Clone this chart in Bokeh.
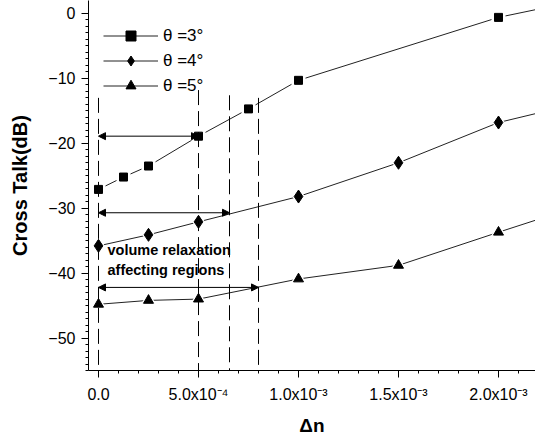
from bokeh.plotting import figure
from bokeh.models import (Range1d, FixedTicker, Legend, LegendItem, Label,
                          Arrow, NormalHead)
from bokeh.embed import file_html
from bokeh.resources import INLINE

# ---- data ----
dn3 = [0.0, 1.25e-4, 2.5e-4, 5.0e-4, 7.5e-4, 1.0e-3, 2.0e-3, 2.5e-3]
ct3 = [-27.1, -25.2, -23.5, -18.9, -14.7, -10.3, -0.6, 2.6]
dn4 = [0.0, 2.5e-4, 5.0e-4, 1.0e-3, 1.5e-3, 2.0e-3, 2.5e-3]
ct4 = [-35.8, -34.1, -32.1, -28.2, -23.0, -16.8, -13.1]
dn5 = [0.0, 2.5e-4, 5.0e-4, 1.0e-3, 1.5e-3, 2.0e-3, 2.5e-3]
ct5 = [-44.8, -44.2, -44.0, -40.9, -38.8, -33.7, -28.7]

series_labels = ["θ =3°", "θ =4°", "θ =5°"]

# region boundaries (vertical dashed lines) and their top ends
region_x = [0.0, 5.0e-4, 6.55e-4, 8.0e-4]
region_top = [-13.0, -11.8, -12.6, -13.0]
region_bottom = -55.0

# double arrows: level and right end
arrow_y = [-18.9, -30.7, -42.2]
arrow_x_end = [5.0e-4, 6.55e-4, 8.0e-4]

x_ticks = [0.0, 5.0e-4, 1.0e-3, 1.5e-3, 2.0e-3]
x_tick_labels = ["0.0", "5.0x10\u207b\u2074", "1.0x10\u207b\u00b3",
                 "1.5x10\u207b\u00b3", "2.0x10\u207b\u00b3"]
y_ticks = [0, -10, -20, -30, -40, -50]

FONT = "Liberation Sans"

p = figure(width=535, height=440, output_backend="svg", toolbar_location=None,
           x_range=Range1d(-0.5e-4, 2.185e-3), y_range=Range1d(-55, 2.0),
           min_border_left=88, min_border_right=0, min_border_top=0,
           min_border_bottom=70)
p.outline_line_color = None
p.xgrid.visible = False
p.ygrid.visible = False
p.background_fill_color = "white"

# curves
renderers = []
for dn, ct, mk, sz in [(dn3, ct3, "square", 8), (dn4, ct4, "diamond", 13),
                       (dn5, ct5, "triangle", 10)]:
    ln = p.line(dn, ct, line_color="#222222", line_width=1)
    p.scatter(dn, ct, marker=mk, size=sz + 6, fill_color="white",
              line_color=None)
    sc = p.scatter(dn, ct, marker=mk, size=sz, fill_color="black",
                   line_color="black")
    renderers.append((ln, sc))

# vertical dashed lines
p.segment(x0=region_x, y0=region_top, x1=region_x,
          y1=[region_bottom] * len(region_x), line_color="black",
          line_width=1, line_dash="15 6")

# double arrows
for ay, ax in zip(arrow_y, arrow_x_end):
    p.add_layout(Arrow(x_start=ax, y_start=ay, x_end=0.0, y_end=ay,
                       line_color="black", line_width=1,
                       end=NormalHead(size=7, fill_color="black",
                                      line_color="black"),
                       start=NormalHead(size=7, fill_color="black",
                                        line_color="black")))

# annotation text
for txt, ty in [("volume relaxation", -36.4), ("affecting regions", -39.5)]:
    p.add_layout(Label(x=4.5e-5, y=ty, text=txt, text_font=FONT,
                       text_font_style="bold", text_font_size="14.5px",
                       text_baseline="middle", text_color="black"))

# legend
legend = Legend(items=[LegendItem(label=lab, renderers=list(r))
                       for lab, r in zip(series_labels, renderers)],
                location=(15, 272), padding=0, margin=0, spacing=0,
                glyph_width=55, glyph_height=25, label_standoff=5,
                label_height=25,
                border_line_color=None, background_fill_alpha=0,
                label_text_font=FONT, label_text_font_size="17px",
                label_text_color="black")
p.add_layout(legend)

# axes
p.xaxis.ticker = FixedTicker(ticks=x_ticks,
                             minor_ticks=[i * 1e-4 for i in range(0, 22)])
p.xaxis.major_label_overrides = dict(zip(x_ticks, x_tick_labels))
p.yaxis.ticker = FixedTicker(ticks=y_ticks,
                             minor_ticks=list(range(-55, 1)))
for ax in (p.xaxis[0], p.yaxis[0]):
    ax.axis_line_color = "black"
    ax.major_tick_line_color = "black"
    ax.minor_tick_line_color = "black"
    ax.major_tick_in = 0
    ax.major_tick_out = 7
    ax.minor_tick_in = 0
    ax.minor_tick_out = 3
    ax.major_label_text_font = FONT
    ax.major_label_text_font_size = "16px"
    ax.major_label_text_color = "black"
    ax.axis_label_text_font = FONT
    ax.axis_label_text_font_style = "bold"
    ax.axis_label_text_color = "black"
p.xaxis.axis_label = "Δn"
p.xaxis.axis_label_text_font_size = "19px"
p.yaxis.axis_label = "Cross Talk(dB)"
p.yaxis.axis_label_text_font_size = "20px"
p.xaxis.major_label_standoff = 8
p.yaxis.major_label_standoff = 6
p.yaxis.axis_label_standoff = 14
p.xaxis.axis_label_standoff = 9

open("out.html", "w").write(file_html(p, INLINE))
